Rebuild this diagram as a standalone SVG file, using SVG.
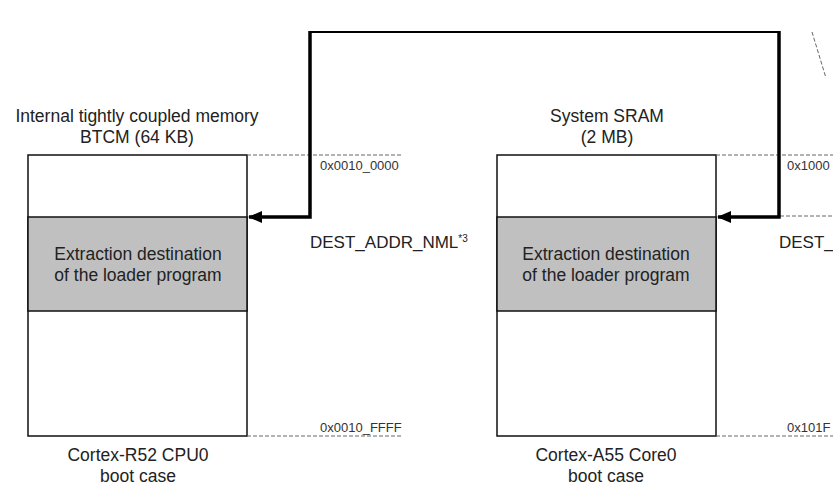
<svg xmlns="http://www.w3.org/2000/svg" width="833" height="504" viewBox="0 0 833 504">
<defs>
<style>
text{font-family:"Liberation Sans",Arial,sans-serif;fill:#222}
.t{font-size:17.5px;text-anchor:middle}
.a{font-size:13px;fill:#333}
.d{font-size:17px}
.box{fill:#fff;stroke:#111;stroke-width:1.5}
.band{fill:#c0c0c0;stroke:#111;stroke-width:1.5}
.dash{stroke:#666;stroke-width:1;stroke-dasharray:4 2;fill:none}
.thick{stroke:#000;stroke-width:3.5;fill:none}
.thin{stroke:#000;stroke-width:2;fill:none}
</style>
<marker id="ah" markerWidth="14" markerHeight="12" refX="13" refY="6" orient="auto" markerUnits="userSpaceOnUse" viewBox="0 0 14 12">
<path d="M0,0 L14,6 L0,12 z" fill="#000"/>
</marker>
</defs>
<rect width="833" height="504" fill="#fff"/>
<g id="btcm">
<rect class="box" x="28" y="155" width="219" height="281"/>
<rect class="band" x="28" y="217" width="219" height="94"/>
<text class="t" x="137" y="122">Internal tightly coupled memory</text>
<text class="t" x="137" y="143">BTCM (64 KB)</text>
<text class="t" x="138" y="260">Extraction destination</text>
<text class="t" x="138" y="281">of the loader program</text>
<text class="t" x="138" y="461">Cortex-R52 CPU0</text>
<text class="t" x="138" y="482">boot case</text>
<text class="a" x="320" y="170">0x0010_0000</text>
<text class="a" x="320" y="432">0x0010_FFFF</text>
</g>
<g id="sram">
<rect class="box" x="497" y="155" width="219" height="281"/>
<rect class="band" x="497" y="217" width="219" height="94"/>
<text class="t" x="607" y="122">System SRAM</text>
<text class="t" x="607" y="143">(2 MB)</text>
<text class="t" x="606" y="260">Extraction destination</text>
<text class="t" x="606" y="281">of the loader program</text>
<text class="t" x="606" y="461">Cortex-A55 Core0</text>
<text class="t" x="606" y="482">boot case</text>
<text class="a" x="787" y="170">0x1000</text>
<text class="a" x="787" y="432">0x101F</text>
</g>
<g id="labels">
<text class="d" x="310" y="248">DEST_ADDR_NML<tspan font-size="10" dy="-6">*3</tspan></text>
<text class="d" x="779" y="248">DEST_</text>
</g>
<g id="connectors">
<line class="dash" x1="247" y1="155" x2="402" y2="155"/>
<line class="dash" x1="247" y1="436" x2="402" y2="436"/>
<line class="dash" x1="716" y1="155" x2="833" y2="155"/>
<line class="dash" x1="780" y1="216" x2="833" y2="216"/>
<line class="dash" x1="716" y1="436" x2="833" y2="436"/>
<line class="dash" x1="812" y1="32" x2="826" y2="78"/>
<line class="thin" x1="310" y1="32" x2="779" y2="32"/>
<path class="thick" d="M310,31 V217 H249" marker-end="url(#ah)"/>
<path class="thick" d="M779,31 V217 H718" marker-end="url(#ah)"/>
</g>
</svg>
